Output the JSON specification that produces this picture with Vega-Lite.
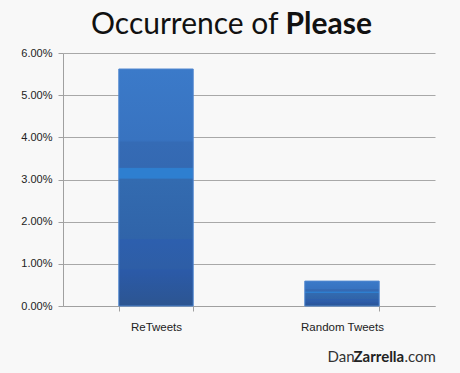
{
  "$schema": "https://vega.github.io/schema/vega-lite/v6.json",
  "width": 372,
  "height": 253,
  "autosize": {"type": "none"},
  "padding": {"left": 63, "top": 53, "right": 25, "bottom": 67},
  "background": "#f8f8f8",
  "config": {"view": {"stroke": null}},
  "title": {
    "text": "Occurrence of",
    "anchor": "start",
    "frame": "group",
    "dx": 28,
    "dy": 55,
    "font": "Lato",
    "fontSize": 30,
    "fontWeight": "normal",
    "color": "#111111",
    "baseline": "alphabetic",
    "offset": 0
  },
  "data": {
    "values": [
      {"category": "ReTweets", "value": 0.0562},
      {"category": "Random Tweets", "value": 0.0059}
    ]
  },
  "layer": [
    {
      "mark": {
        "type": "bar",
        "stroke": "#4f86cf",
        "strokeWidth": 1,
        "color": {
          "gradient": "linear",
          "x1": 0, "y1": 0, "x2": 0, "y2": 1,
          "stops": [
            {"offset": 0, "color": "#3b7ac9"},
            {"offset": 0.3, "color": "#3873c0"},
            {"offset": 0.31, "color": "#356bb5"},
            {"offset": 0.415, "color": "#3469b2"},
            {"offset": 0.42, "color": "#2e7fd0"},
            {"offset": 0.46, "color": "#2e7fd0"},
            {"offset": 0.465, "color": "#336bb0"},
            {"offset": 0.715, "color": "#3064a9"},
            {"offset": 0.72, "color": "#2d5fae"},
            {"offset": 0.84, "color": "#2e5ea6"},
            {"offset": 0.85, "color": "#2b5aa8"},
            {"offset": 1, "color": "#2c5591"}
          ]
        }
      },
      "encoding": {
        "x": {
          "field": "category",
          "type": "nominal",
          "sort": null,
          "scale": {"paddingInner": 0.6, "paddingOuter": 0.3},
          "axis": {
            "orient": "bottom",
            "labelAngle": 0,
            "labelFont": "Liberation Sans",
            "labelFontSize": 11.5,
            "labelColor": "#222222",
            "labelPadding": 10,
            "domainColor": "#a0a0a0",
            "tickColor": "#a0a0a0",
            "tickSize": 5,
            "tickBand": "extent",
            "title": "Dan",
            "titleFont": "Lato",
            "titleFontSize": 15,
            "titleFontWeight": "normal",
            "titleColor": "#333333",
            "titleAlign": "left",
            "titleBaseline": "alphabetic",
            "titleX": 264,
            "titleY": 55
          }
        },
        "y": {
          "field": "value",
          "type": "quantitative",
          "scale": {"domain": [0, 0.06]},
          "axis": {
            "orient": "left",
            "values": [0, 0.01, 0.02, 0.03, 0.04, 0.05, 0.06],
            "format": ".2%",
            "labelFont": "Liberation Sans",
            "labelFontSize": 11,
            "labelColor": "#222222",
            "labelPadding": 6,
            "domainColor": "#a0a0a0",
            "tickColor": "#a0a0a0",
            "tickSize": 5,
            "grid": true,
            "gridColor": "#a8a8a8",
            "gridWidth": 1,
            "title": "Zarrella",
            "titleFont": "Lato",
            "titleFontSize": 15,
            "titleFontWeight": "bold",
            "titleColor": "#222222",
            "titleAngle": 0,
            "titleAlign": "left",
            "titleBaseline": "alphabetic",
            "titleX": 290,
            "titleY": 308
          }
        }
      }
    },
    {
      "mark": {"type": "point", "opacity": 0},
      "encoding": {
        "x": {
          "field": "category",
          "type": "nominal",
          "sort": null,
          "axis": {
            "orient": "top",
            "labels": false,
            "ticks": false,
            "domain": false,
            "grid": false,
            "title": "Please",
            "titleFont": "Lato",
            "titleFontSize": 30,
            "titleFontWeight": "bold",
            "titleColor": "#111111",
            "titleAlign": "left",
            "titleBaseline": "alphabetic",
            "titleX": 222,
            "titleY": -20
          }
        },
        "y": {
          "field": "value",
          "type": "quantitative",
          "axis": {
            "orient": "right",
            "labels": false,
            "ticks": false,
            "domain": false,
            "grid": false,
            "title": ".com",
            "titleFont": "Lato",
            "titleFontSize": 15,
            "titleFontWeight": "normal",
            "titleColor": "#333333",
            "titleAngle": 0,
            "titleAlign": "left",
            "titleBaseline": "alphabetic",
            "titleX": -31,
            "titleY": 308
          }
        }
      }
    }
  ],
  "resolve": {"axis": {"x": "independent", "y": "independent"}}
}
